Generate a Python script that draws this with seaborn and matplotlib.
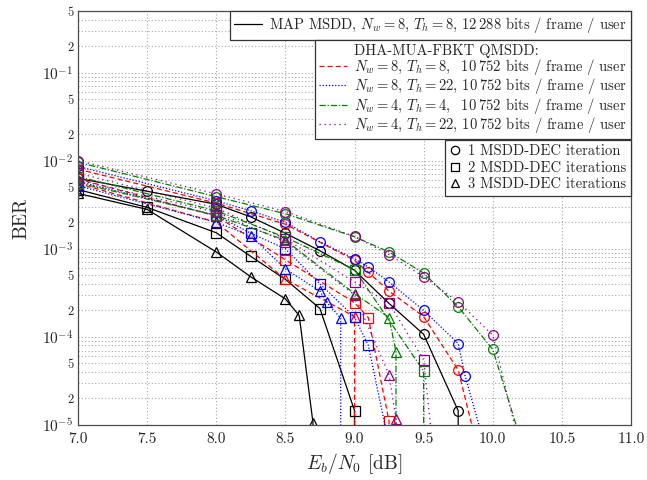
import numpy as np
import pandas as pd
import matplotlib
matplotlib.use("Agg")
import matplotlib.pyplot as plt
from matplotlib.lines import Line2D
from matplotlib.ticker import LogLocator, FuncFormatter, MultipleLocator, FormatStrFormatter
import seaborn as sns

# BER vs Eb/N0 [dB]. A 0 means no bit errors were counted
# (the curve then drops straight down out of the plot).

# MAP MSDD, Nw = 8, Th = 8
map_it1_x = [7.0, 7.5, 8.0, 8.25, 8.5, 8.75, 9.0, 9.25, 9.5, 9.75, 10.0]
map_it1_ber = [6.3e-3, 4.5e-3, 3.2e-3, 2.3e-3, 1.5e-3, 9.5e-4, 5.7e-4, 2.4e-4, 1.07e-4, 1.45e-5, 0]
map_it2_x = [7.0, 7.5, 8.0, 8.25, 8.5, 8.75, 9.0, 9.25]
map_it2_ber = [4.7e-3, 2.95e-3, 1.52e-3, 8.2e-4, 4.5e-4, 2.1e-4, 1.46e-5, 0]
map_it3_x = [7.0, 7.5, 8.0, 8.25, 8.5, 8.6, 8.7, 8.8]
map_it3_ber = [4.25e-3, 2.8e-3, 9.2e-4, 4.8e-4, 2.7e-4, 1.75e-4, 1.05e-5, 0]

# QMSDD Nw = 8, Th = 8
q88_it1_x = [7.0, 8.0, 8.5, 9.0, 9.1, 9.25, 9.5, 9.75, 10.0]
q88_it1_ber = [8.0e-3, 3.3e-3, 1.9e-3, 7.4e-4, 5.4e-4, 3.3e-4, 1.7e-4, 4.2e-5, 1.1e-6]
q88_it2_x = [7.0, 8.0, 8.5, 9.0, 9.1, 9.25, 9.5]
q88_it2_ber = [6.2e-3, 2.35e-3, 7.5e-4, 2.45e-4, 1.65e-4, 1.1e-5, 0]
q88_it3_x = [7.0, 8.0, 8.5, 9.0, 9.1]
q88_it3_ber = [5.5e-3, 2.0e-3, 4.5e-4, 1.7e-4, 0]

# QMSDD Nw = 8, Th = 22
q822_it1_x = [7.0, 8.0, 8.25, 8.5, 8.75, 9.0, 9.1, 9.25, 9.5, 9.75, 9.8, 10.0]
q822_it1_ber = [8.6e-3, 3.5e-3, 2.7e-3, 2.0e-3, 1.2e-3, 7.7e-4, 6.2e-4, 4.2e-4, 2.0e-4, 8.4e-5, 3.6e-5, 2.8e-6]
q822_it2_x = [7.0, 8.0, 8.25, 8.5, 8.75, 9.0, 9.1, 9.25]
q822_it2_ber = [5.8e-3, 2.4e-3, 1.5e-3, 1.0e-3, 4.0e-4, 1.68e-4, 8.0e-5, 6e-6]
q822_it3_x = [7.0, 8.0, 8.25, 8.5, 8.75, 8.8, 8.9, 9.0]
q822_it3_ber = [5.2e-3, 2.0e-3, 1.4e-3, 5.9e-4, 3.3e-4, 2.46e-4, 1.63e-4, 0]

# QMSDD Nw = 4, Th = 4
q44_it1_x = [7.0, 8.0, 8.5, 9.0, 9.25, 9.5, 9.75, 10.0, 10.25]
q44_it1_ber = [9.6e-3, 3.9e-3, 2.5e-3, 1.37e-3, 9.2e-4, 5.3e-4, 2.2e-4, 7.2e-5, 3.9e-6]
q44_it2_x = [7.0, 8.0, 8.5, 9.0, 9.5, 9.75]
q44_it2_ber = [6.6e-3, 2.7e-3, 1.35e-3, 5.8e-4, 4.1e-5, 0]
q44_it3_x = [7.0, 8.0, 8.5, 9.0, 9.25, 9.3, 9.4]
q44_it3_ber = [5.6e-3, 2.4e-3, 1.25e-3, 3.1e-4, 1.66e-4, 6.8e-5, 0]

# QMSDD Nw = 4, Th = 22
q422_it1_x = [7.0, 8.0, 8.5, 9.0, 9.25, 9.5, 9.75, 10.0, 10.25]
q422_it1_ber = [1.0e-2, 4.2e-3, 2.65e-3, 1.38e-3, 8.6e-4, 4.8e-4, 2.5e-4, 1.05e-4, 2.5e-6]
q422_it2_x = [7.0, 8.0, 8.5, 9.0, 9.25, 9.5, 9.75]
q422_it2_ber = [7.2e-3, 2.9e-3, 1.3e-3, 4.2e-4, 2.4e-4, 5.5e-5, 1e-8]
q422_it3_x = [7.0, 8.0, 8.5, 9.0, 9.25, 9.3, 9.4]
q422_it3_ber = [6.0e-3, 2.6e-3, 1.2e-3, 3.0e-4, 3.7e-5, 1.17e-5, 0]

map_label = r"MAP MSDD, $N_w = 8$, $T_h = 8$, 12$\:$288 bits / frame / user"
qmsdd_title = "DHA-MUA-FBKT QMSDD:"
qmsdd_labels = [
    r"$N_w = 8$, $T_h = 8$,$\enspace$ 10$\:$752 bits / frame / user",
    r"$N_w = 8$, $T_h = 22$, 10$\:$752 bits / frame / user",
    r"$N_w = 4$, $T_h = 4$,$\enspace$ 10$\:$752 bits / frame / user",
    r"$N_w = 4$, $T_h = 22$, 10$\:$752 bits / frame / user",
]
iter_labels = ["1 MSDD-DEC iteration", "2 MSDD-DEC iterations", "3 MSDD-DEC iterations"]

styles = {
    "map": dict(color="black", ls="-"),
    "q88": dict(color="#ff0000", ls=(0, (4, 2.5))),
    "q822": dict(color="#0000ff", ls=(0, (1, 1.5))),
    "q44": dict(color="#008000", ls=(0, (5, 1.5, 1, 1.5))),
    "q422": dict(color="#8b008b", ls=(0, (1, 3))),
}
markers = {1: "o", 2: "s", 3: "^"}

curves = [
    ("map", 1, map_it1_x, map_it1_ber), ("map", 2, map_it2_x, map_it2_ber), ("map", 3, map_it3_x, map_it3_ber),
    ("q88", 1, q88_it1_x, q88_it1_ber), ("q88", 2, q88_it2_x, q88_it2_ber), ("q88", 3, q88_it3_x, q88_it3_ber),
    ("q822", 1, q822_it1_x, q822_it1_ber), ("q822", 2, q822_it2_x, q822_it2_ber), ("q822", 3, q822_it3_x, q822_it3_ber),
    ("q44", 1, q44_it1_x, q44_it1_ber), ("q44", 2, q44_it2_x, q44_it2_ber), ("q44", 3, q44_it3_x, q44_it3_ber),
    ("q422", 1, q422_it1_x, q422_it1_ber), ("q422", 2, q422_it2_x, q422_it2_ber), ("q422", 3, q422_it3_x, q422_it3_ber),
]

sns.set_theme(style="white")
plt.rcParams.update({
    "font.family": "serif",
    "font.serif": ["cmr10"],
    "mathtext.fontset": "cm",
    "axes.unicode_minus": False,
    "axes.formatter.use_mathtext": True,
})

fig = plt.figure(figsize=(6.47, 4.8), dpi=100)
ax = fig.add_axes([78 / 647, 55 / 480, 553 / 647, 414 / 480])

for cfg, it, xs, ys in curves:
    st = styles[cfg]
    df = pd.DataFrame({"ebn0": xs, "ber": ys})
    sns.lineplot(data=df, x="ebn0", y="ber", ax=ax, estimator=None, sort=False,
                 color=st["color"], linestyle=st["ls"], linewidth=0.9,
                 marker=markers[it], markersize=7, markerfacecolor="none",
                 markeredgecolor=st["color"], markeredgewidth=0.9)

ax.set_yscale("log")
ax.set_xlim(7.0, 11.0)
ax.set_ylim(1e-5, 0.5)

ax.xaxis.set_major_locator(MultipleLocator(0.5))
ax.xaxis.set_major_formatter(FormatStrFormatter("%.1f"))
ax.yaxis.set_major_locator(LogLocator(base=10, numticks=10))
ax.yaxis.set_minor_locator(LogLocator(base=10, subs=np.arange(2, 10), numticks=20))


def minor_fmt(v, pos):
    m = int(round(v / 10 ** np.floor(np.log10(v) + 1e-9)))
    return str(m) if m in (2, 5) else ""


ax.yaxis.set_minor_formatter(FuncFormatter(minor_fmt))

ax.grid(True, which="major", color="#a8a8a8", linestyle=(0, (1, 2)), linewidth=0.8)
ax.grid(True, which="minor", axis="y", color="#a8a8a8", linestyle=(0, (1, 2)), linewidth=0.8)
ax.tick_params(axis="both", which="both", direction="in", length=3, color="0.3")
ax.tick_params(axis="x", which="major", labelsize=11, pad=5)
ax.tick_params(axis="y", which="major", labelsize=11)
ax.tick_params(axis="y", which="minor", labelsize=9)
for sp in ax.spines.values():
    sp.set_color("0.3")
    sp.set_linewidth(0.9)

ax.set_xlabel(r"$E_b/N_0$ [dB]", fontsize=14)
ax.set_ylabel("BER", fontsize=14, labelpad=8)

leg_kw = dict(fontsize=10.5, frameon=True, fancybox=False, edgecolor="0.2", framealpha=1,
              borderaxespad=0, borderpad=0.3, handletextpad=0.5)

h_map = [Line2D([], [], color="black", lw=0.9)]
leg1 = ax.legend(h_map, [map_label], loc="upper right", bbox_to_anchor=(1, 1),
                 handlelength=1.9, labelspacing=0.2, **leg_kw)
ax.add_artist(leg1)

h_q = [Line2D([], [], ls="none")]
for cfg in ["q88", "q822", "q44", "q422"]:
    h_q.append(Line2D([], [], color=styles[cfg]["color"], ls=styles[cfg]["ls"], lw=0.9))
leg2 = ax.legend(h_q, [qmsdd_title] + qmsdd_labels, loc="upper right",
                 bbox_to_anchor=(1, 1 - 29 / 414), handlelength=1.9, labelspacing=-0.04,
                 borderaxespad=0, borderpad=0.25, handletextpad=0.5, fontsize=10.5,
                 frameon=True, fancybox=False, edgecolor="0.2", framealpha=1)
ax.add_artist(leg2)

h_it = [Line2D([], [], ls="none", marker=markers[i], ms=6, mfc="none", mec="black", mew=0.9)
        for i in (1, 2, 3)]
leg3 = ax.legend(h_it, iter_labels, loc="upper right", bbox_to_anchor=(1, 1 - 129 / 414),
                 handlelength=0.8, labelspacing=0.2, **leg_kw)
for lg in (leg1, leg2, leg3):
    lg.get_frame().set_linewidth(0.9)

fig.savefig("out.png", dpi=100)
